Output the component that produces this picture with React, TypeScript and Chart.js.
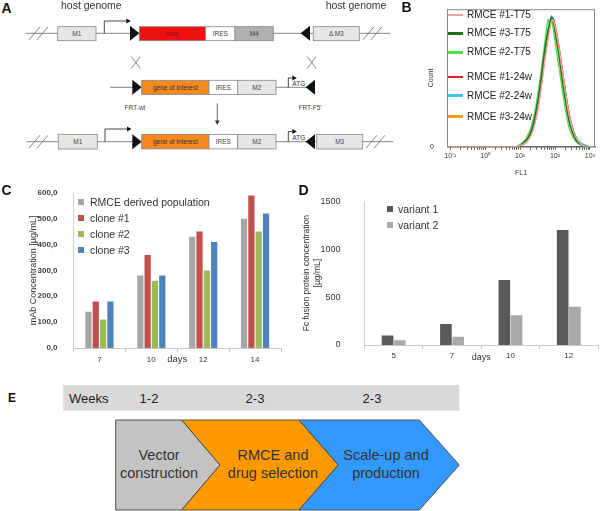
import React, { useEffect, useRef } from 'react';
import { Chart, registerables } from 'chart.js';
Chart.register(...registerables);

const FONT = "'Liberation Sans', Arial, sans-serif";
Chart.defaults.font.family = FONT;

// ---------- Panel B data (flow cytometry histogram) ----------
const flValues = [0.08, 1, 5, 8, 10, 12.6, 15.8, 20, 25, 31.6, 40, 50, 63, 71, 79, 89, 100, 126, 158, 200, 251, 316, 398, 501, 631, 794, 1000, 1400];
const rmce1T75 = [0, 0, 0, 0, 1, 2, 4, 8, 15, 27, 44, 64, 82, 90, 95, 97, 92, 78, 60, 41, 25, 14, 7, 3, 1, 0, 0, 0];
const rmce3T75 = [0, 0, 0, 0, 1, 3, 6, 11, 20, 34, 53, 73, 89, 95, 99, 96, 88, 72, 53, 35, 20, 11, 5, 2, 1, 0, 0, 0];
const rmce2T75 = [0, 0, 0, 0, 2, 4, 8, 14, 24, 39, 58, 78, 97, 93, 96, 90, 80, 63, 45, 28, 15, 8, 4, 2, 1, 0, 0, 0];
const rmce1W24 = [0, 0, 0, 0, 1, 2, 4, 9, 16, 28, 46, 66, 84, 92, 96, 98, 93, 79, 61, 42, 26, 14, 7, 3, 1, 0, 0, 0];
const rmce2W24 = [0, 0, 0, 0, 1, 2, 5, 10, 18, 31, 50, 70, 87, 94, 100, 97, 91, 77, 60, 42, 26, 15, 8, 4, 2, 1, 0, 0];
const rmce3W24 = [0, 0, 0, 0, 1, 3, 6, 12, 21, 35, 54, 74, 90, 94, 97, 94, 86, 70, 51, 33, 19, 10, 5, 2, 1, 0, 0, 0];
const bSeriesNames = ['RMCE #1-T75', 'RMCE #3-T75', 'RMCE #2-T75', 'RMCE #1-24w', 'RMCE #2-24w', 'RMCE #3-24w'];
const bSeriesData = [rmce1T75, rmce3T75, rmce2T75, rmce1W24, rmce2W24, rmce3W24];
const bColors = ['#f4a3a3', '#1e6e1e', '#4ee04e', '#e02424', '#3cc8ee', '#ff9a1e'];
const flDecades = [0.1, 1, 10, 100, 1000];
const flDecadeLabels = ['10⁻¹', '10⁰', '10¹', '10²', '10³'];

// ---------- Panel C data ----------
const cDays = ['7', '10', '12', '14'];
const cRmcePop = [140, 280, 430, 500];
const cClone1 = [180, 360, 450, 590];
const cClone2 = [110, 260, 300, 450];
const cClone3 = [180, 280, 410, 520];
const cNames = ['RMCE derived population', 'clone #1', 'clone #2', 'clone #3'];
const cColors = ['#a6a6a6', '#c0504d', '#9bbb59', '#4f81bd'];

// ---------- Panel D data ----------
const dDays = ['5', '7', '10', '12'];
const dVariant1 = [100, 220, 680, 1200];
const dVariant2 = [50, 85, 310, 400];
const dNames = ['variant 1', 'variant 2'];
const dColors = ['#595959', '#a9a9a9'];

// ---------- Panel E ----------
const eWeeks = ['1-2', '2-3', '2-3'];
const eSteps = [['Vector', 'construction'], ['RMCE and', 'drug selection'], ['Scale-up and', 'production']];

function ChartBox({ left, top, width, height, make }: any) {
  const ref = useRef<HTMLCanvasElement>(null);
  useEffect(() => {
    const chart = new Chart(ref.current as HTMLCanvasElement, make());
    return () => chart.destroy();
  }, []);
  return (
    <canvas ref={ref} width={width} height={height}
      style={{ position: 'absolute', left, top, width, height }} />
  );
}

function Txt({ x, y, size = 10, bold = false, color = '#333', align = 'left', children }: any) {
  const tr = align === 'center' ? 'translate(-50%,-50%)' : 'translate(0,-50%)';
  return (
    <div style={{ position: 'absolute', left: x, top: y, transform: tr, fontFamily: FONT, fontSize: size,
      fontWeight: bold ? 'bold' : 'normal', color, whiteSpace: 'nowrap', lineHeight: 1 }}>{children}</div>
  );
}

const makeB = () => {
  const ticks: number[] = [];
  flDecades.forEach((d, i) => {
    ticks.push(d);
    if (i < flDecades.length - 1) for (let k = 2; k <= 9; k++) ticks.push(d * k);
  });
  const frame = {
    id: 'frame',
    afterDraw(chart: any) {
      const { ctx, chartArea: a } = chart;
      ctx.save();
      ctx.strokeStyle = '#8a8a8a';
      ctx.lineWidth = 1;
      ctx.strokeRect(a.left + 0.5, a.top + 0.5, a.right - a.left - 1, a.bottom - a.top);
      ctx.restore();
    },
  };
  return {
    type: 'line',
    data: {
      datasets: bSeriesData.map((arr, i) => ({
        label: bSeriesNames[i],
        data: flValues.map((x, j) => ({ x, y: arr[j] })),
        borderColor: bColors[i],
        borderWidth: 1.3,
        pointRadius: 0,
        tension: 0.35,
        fill: false,
      })),
    },
    options: {
      animation: false, responsive: false, maintainAspectRatio: false,
      layout: { padding: { top: 5, right: 5, left: 0, bottom: 0 } },
      plugins: { legend: { display: false }, tooltip: { enabled: false } },
      scales: {
        x: {
          type: 'logarithmic', min: 0.08, max: 1400,
          afterBuildTicks: (s: any) => { s.ticks = ticks.map((v) => ({ value: v })); },
          ticks: {
            autoSkip: false, maxRotation: 0, padding: 2, color: '#333', font: { size: 7 },
            callback: (v: any) => {
              const idx = flDecades.findIndex((d) => Math.abs(d - v) < 1e-9);
              return idx >= 0 ? flDecadeLabels[idx] : '';
            },
          },
          grid: { drawOnChartArea: false, tickLength: 3, color: '#555' },
          border: { color: '#555' },
          title: { display: true, text: 'FL1', font: { size: 7 }, color: '#333', padding: { top: 0, bottom: 2.5 } },
          afterFit: (s: any) => { s.height = 33.3; },
        },
        y: {
          min: 0, max: 105,
          afterBuildTicks: (s: any) => { s.ticks = [{ value: 0 }]; },
          ticks: { padding: 5, color: '#333', font: { size: 7 } },
          grid: { display: false },
          border: { color: '#666' },
          title: { display: true, text: 'Count', font: { size: 7 }, color: '#333', padding: { top: 26.8 } },
          afterFit: (s: any) => { s.width = 47; },
        },
      },
    },
    plugins: [frame],
  };
};

const makeC = () => ({
  type: 'bar',
  data: {
    labels: cDays,
    datasets: [cRmcePop, cClone1, cClone2, cClone3].map((d, i) => ({
      label: cNames[i], data: d, backgroundColor: cColors[i],
    })),
  },
  options: {
    animation: false, responsive: false, maintainAspectRatio: false,
    layout: { padding: { top: 9.3, right: 17, left: 0, bottom: 0 } },
    plugins: { legend: { display: false }, tooltip: { enabled: false } },
    datasets: { bar: { categoryPercentage: 0.565, barPercentage: 0.85 } },
    scales: {
      x: {
        grid: { display: true, drawOnChartArea: false, offset: true, tickLength: 4, color: '#c8c8c8' },
        border: { color: '#c8c8c8' },
        ticks: { font: { size: 8 }, color: '#333', padding: 3 },
        title: { display: true, text: 'days', font: { size: 9.5 }, color: '#333', padding: { top: 0, bottom: 14.6 } },
        afterFit: (s: any) => { s.height = 32; },
      },
      y: {
        min: 0, max: 600,
        ticks: {
          stepSize: 100, padding: 8, color: '#404040', font: { size: 8, weight: 'bold' },
          callback: (v: any) => Number(v).toFixed(1).replace('.', ','),
        },
        grid: { display: false },
        border: { display: true, color: '#d0d0d0' },
        title: { display: true, text: 'mAb Concentration [µg/mL]', font: { size: 9 }, color: '#333', padding: { top: 28 } },
        afterFit: (s: any) => { s.width = 73.5; },
      },
    },
  },
});

const makeD = () => ({
  type: 'bar',
  data: {
    labels: dDays,
    datasets: [dVariant1, dVariant2].map((d, i) => ({
      label: dNames[i], data: d, backgroundColor: dColors[i],
    })),
  },
  options: {
    animation: false, responsive: false, maintainAspectRatio: false,
    layout: { padding: { top: 11.7, right: 2, left: 0, bottom: 0 } },
    plugins: { legend: { display: false }, tooltip: { enabled: false } },
    datasets: { bar: { categoryPercentage: 0.42, barPercentage: 0.95 } },
    scales: {
      x: {
        grid: { display: true, drawOnChartArea: false, offset: true, tickLength: 4, color: '#c8c8c8' },
        border: { color: '#c8c8c8' },
        ticks: { font: { size: 8 }, color: '#333', padding: 2 },
        title: { display: true, text: 'days', font: { size: 9 }, color: '#333', padding: { top: 0, bottom: 16.6 } },
        afterFit: (s: any) => { s.height = 35; },
      },
      y: {
        min: 0, max: 1500,
        ticks: { stepSize: 500, padding: 16, color: '#333', font: { size: 9 }, callback: (v: any) => String(v) },
        grid: { display: false },
        border: { display: true, color: '#d0d0d0' },
        title: {
          display: true, text: ['Fc fusion protein concentration', '[µg/mL]'],
          font: { size: 8.5 }, color: '#333', padding: { top: 4 },
        },
        afterFit: (s: any) => { s.width = 66.5; },
      },
    },
  },
});

function Box({ x, y, w, h, fill = '#e6e6e6', label, tcolor = '#444' }: any) {
  return (
    <g>
      <rect x={x} y={y} width={w} height={h} fill={fill} stroke="#888" strokeWidth={0.8} />
      <text x={x + w / 2} y={y + h / 2 + 2.2} fontSize={6.5} textAnchor="middle" fill={tcolor} fontFamily={FONT}>{label}</text>
    </g>
  );
}

function Slashes({ x, y }: any) {
  return (
    <g stroke="#777" strokeWidth={0.9}>
      <line x1={x} y1={y + 6.5} x2={x + 11} y2={y - 6.5} />
      <line x1={x + 8} y1={y + 6.5} x2={x + 19} y2={y - 6.5} />
    </g>
  );
}

function Promoter({ x, y, top, len }: any) {
  return (
    <g>
      <path d={`M${x} ${y} V${top} H${x + len}`} stroke="#333" strokeWidth={0.9} fill="none" />
      <polygon points={`${x + len},${top - 2.5} ${x + len + 4.5},${top} ${x + len},${top + 2.5}`} fill="#111" />
    </g>
  );
}

function TriR({ x, y }: any) {
  return <polygon points={`${x},${y - 7.5} ${x},${y + 7.5} ${x + 9.4},${y}`} fill="#111" />;
}
function TriL({ x, y }: any) {
  return <polygon points={`${x},${y - 7.5} ${x},${y + 7.5} ${x - 9.4},${y}`} fill="#111" />;
}
function Cross({ x, y }: any) {
  return (
    <g stroke="#666" strokeWidth={0.8}>
      <line x1={x - 4.5} y1={y - 6} x2={x + 4.5} y2={y + 6} />
      <line x1={x + 4.5} y1={y - 6} x2={x - 4.5} y2={y + 6} />
    </g>
  );
}

function Diagrams() {
  const y1 = 33.3, y2 = 87.3, y3 = 141.7;
  const orange = '#f5891f';
  return (
    <svg width={600} height={511} style={{ position: 'absolute', left: 0, top: 0 }}>
      {/* Panel A row 1 */}
      <line x1={26} y1={y1} x2={390} y2={y1} stroke="#777" strokeWidth={0.9} />
      <Slashes x={29} y={y1} />
      <Slashes x={363} y={y1} />
      <Box x={57.7} y={26.7} w={38.3} h={14} label="M1" />
      <Promoter x={104.3} y={y1} top={21} len={22} />
      <TriR x={130} y={y1} />
      <Box x={139.3} y={26.7} w={66.4} h={14} fill="#ee1111" label="hsat" tcolor="#9a1010" />
      <Box x={205.7} y={26.7} w={29.3} h={14} fill="#ffffff" label="IRES" />
      <Box x={235} y={26.7} w={38.3} h={14} fill="#b0b0b0" label="M4" />
      <TriL x={310} y={y1} />
      <Box x={313.3} y={26.7} w={46} h={14} label="Δ M3" />
      <Cross x={135.8} y={62.5} />
      <Cross x={311.7} y={62.5} />
      {/* row 2 */}
      <line x1={110} y1={y2} x2={315} y2={y2} stroke="#777" strokeWidth={0.9} />
      <TriR x={132.3} y={y2} />
      <Box x={141.7} y={80.3} w={67.3} h={14.2} fill={orange} label="gene of interest" tcolor="#333" />
      <Box x={209} y={80.3} w={28.7} h={14.2} fill="#ffffff" label="IRES" />
      <Box x={237.7} y={80.3} w={38.3} h={14.2} label="M2" />
      <Promoter x={288.3} y={y2} top={78} len={4} />
      <text x={298.8} y={86} fontSize={6.5} textAnchor="middle" fill="#333" fontFamily={FONT}>ATG</text>
      <TriL x={315} y={y2} />
      <text x={135} y={110} fontSize={6.5} textAnchor="middle" fill="#444" fontFamily={FONT}>FRT-wt</text>
      <text x={310} y={110} fontSize={6.5} textAnchor="middle" fill="#444" fontFamily={FONT}>FRT-F5'</text>
      <line x1={217.3} y1={103.3} x2={217.3} y2={121} stroke="#555" strokeWidth={0.9} />
      <polygon points="215,120.5 219.6,120.5 217.3,125" fill="#333" />
      {/* row 3 */}
      <line x1={26.7} y1={y3} x2={393.3} y2={y3} stroke="#777" strokeWidth={0.9} />
      <Slashes x={29} y={y3} />
      <Slashes x={366} y={y3} />
      <Box x={58.3} y={134.3} w={39} h={14.7} label="M1" />
      <Promoter x={105} y={y3} top={129} len={22} />
      <TriR x={132.3} y={y3} />
      <Box x={141.7} y={134.5} w={67.3} h={14.4} fill={orange} label="gene of interest" tcolor="#333" />
      <Box x={209} y={134.5} w={28.7} h={14.4} fill="#ffffff" label="IRES" />
      <Box x={237.7} y={134.5} w={38.3} h={14.4} label="M2" />
      <Promoter x={288.3} y={y3} top={131.5} len={4} />
      <text x={298.8} y={140} fontSize={6.5} textAnchor="middle" fill="#333" fontFamily={FONT}>ATG</text>
      <TriL x={315} y={y3} />
      <Box x={316.7} y={134.3} w={46} h={14.7} label="M3" />

      {/* Panel E */}
      <rect x={63.3} y={385} width={396} height={25.7} fill="#d9d9d9" />
      <polygon points="115.7,420 181.7,420 220,465 181.7,510 115.7,510" fill="#c3c3c3" stroke="#444" strokeWidth={0.9} />
      <polygon points="181.7,420 299,420 338.3,465 299,510 181.7,510 220,465" fill="#ff9900" stroke="#444" strokeWidth={0.9} />
      <polygon points="299,420 419.3,420 459.3,465 419.3,510 299,510 338.3,465" fill="#3399ff" stroke="#444" strokeWidth={0.9} />
    </svg>
  );
}

export default function App() {
  const eCenters = [159, 273, 386];
  const eWeekX = [149, 255, 372];
  const bLegendY = [15, 33.3, 52.3, 77, 95.7, 116.7];
  const cLegendY = [202.3, 218.3, 234.3, 250.3];
  const dLegendY = [208.7, 224.7];
  return (
    <div style={{ position: 'fixed', left: 0, top: 0, width: 600, height: 511, background: '#fff', overflow: 'hidden' }}>
      <Diagrams />
      <ChartBox left={400} top={0} width={200} height={180} make={makeB} />
      <ChartBox left={0} top={180} width={298} height={200} make={makeC} />
      <ChartBox left={298} top={180} width={302} height={200} make={makeD} />

      {/* panel letters */}
      <Txt x={1.5} y={8} size={14} bold color="#111">A</Txt>
      <Txt x={401.5} y={7} size={14} bold color="#111">B</Txt>
      <Txt x={1.5} y={190} size={14} bold color="#111">C</Txt>
      <Txt x={298.5} y={190} size={14} bold color="#111">D</Txt>
      <Txt x={8} y={398} size={12} bold color="#111">E</Txt>

      {/* A headers */}
      <Txt x={61} y={5} size={10.5} color="#333">host genome</Txt>
      <Txt x={325.7} y={5} size={10.5} color="#333">host genome</Txt>

      {/* B legend */}
      {bSeriesNames.map((n, i) => (
        <React.Fragment key={n}>
          <div style={{ position: 'absolute', left: 448, top: bLegendY[i] - 1.3, width: 15, height: 2.6, background: bColors[i] }} />
          <Txt x={467} y={bLegendY[i]} size={10} color="#222">{n}</Txt>
        </React.Fragment>
      ))}

      {/* C legend */}
      {cNames.map((n, i) => (
        <React.Fragment key={n}>
          <div style={{ position: 'absolute', left: 78.3, top: cLegendY[i] - 3, width: 6, height: 6, background: cColors[i] }} />
          <Txt x={90} y={cLegendY[i]} size={10.5} color="#333">{n}</Txt>
        </React.Fragment>
      ))}

      {/* D legend */}
      {dNames.map((n, i) => (
        <React.Fragment key={n}>
          <div style={{ position: 'absolute', left: 386.7, top: dLegendY[i] - 3, width: 6, height: 6, background: dColors[i] }} />
          <Txt x={398} y={dLegendY[i]} size={10.5} color="#333">{n}</Txt>
        </React.Fragment>
      ))}

      {/* E texts */}
      <Txt x={69} y={398} size={13} color="#222">Weeks</Txt>
      {eWeeks.map((w, i) => (
        <Txt key={i} x={eWeekX[i]} y={398} size={13} color="#222" align="center">{w}</Txt>
      ))}
      {eSteps.map((lines, i) => (
        <React.Fragment key={i}>
          <Txt x={eCenters[i]} y={455} size={14.5} color="#333" align="center">{lines[0]}</Txt>
          <Txt x={eCenters[i]} y={473.3} size={14.5} color="#333" align="center">{lines[1]}</Txt>
        </React.Fragment>
      ))}
    </div>
  );
}
